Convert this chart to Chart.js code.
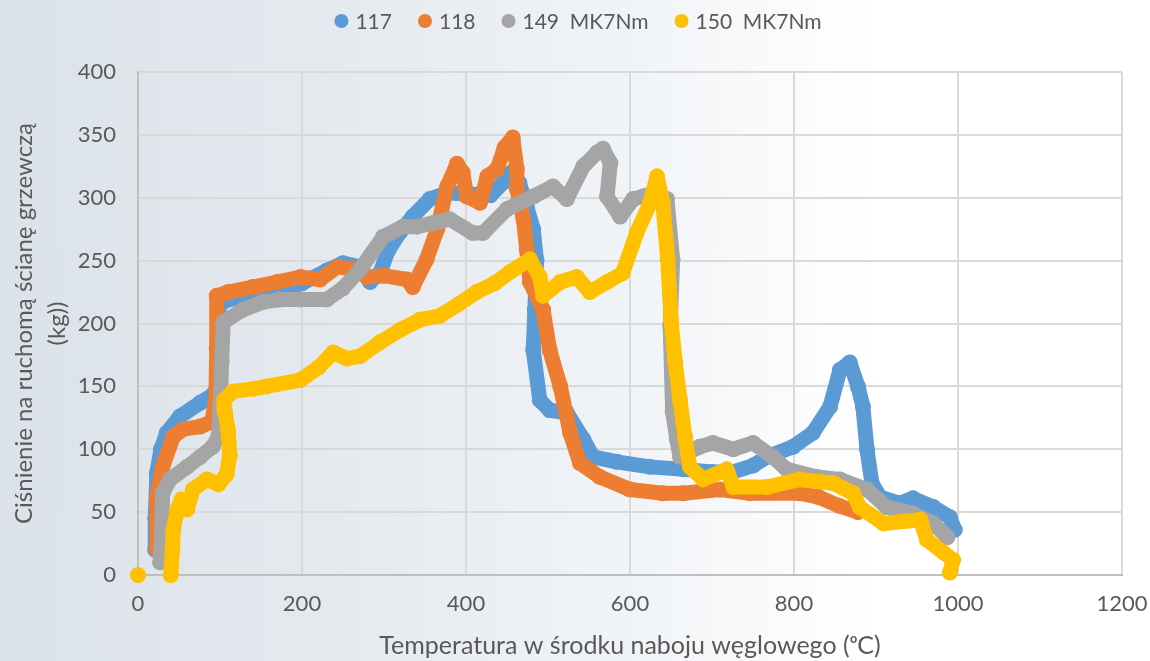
<!DOCTYPE html>
<html>
<head>
<meta charset="utf-8">
<script src="https://cdn.jsdelivr.net/npm/chart.js@4"></script>
<style>
html, body { margin: 0; padding: 0; }
body {
  width: 1150px; height: 661px; overflow: hidden;
  background: linear-gradient(90deg, #dbe2e9 0%, #e5eaef 30%, #f1f4f7 55%, #ffffff 76%);
}
#wrap { position: relative; width: 1150px; height: 661px; }
</style>
</head>
<body>
<div id="wrap"><canvas id="chart"></canvas></div>
<script>
// series labels + colours (Excel default palette)
var seriesNames = ['117', '118', '149  MK7Nm', '150  MK7Nm'];
var seriesColors = ['#5B9BD5', '#ED7D31', '#A5A5A5', '#FFC000'];

// temperature (x) / pressure (y)
var temp117 = [21, 21, 23, 28, 35, 51, 76, 91, 97, 98, 99, 110, 140, 180, 200, 230, 250, 270, 283, 295, 305, 320, 335, 356, 377, 400, 430, 445, 455, 465, 474, 482, 486, 484, 482, 490, 502, 523, 543, 555, 584, 624, 665, 700, 726, 750, 767, 799, 823, 844, 856, 868, 878, 884, 889, 895, 905, 929, 945, 970, 990, 996];
var press117 = [20, 45, 81, 100, 113, 126, 137, 143, 150, 185, 215, 219, 222, 228, 232, 242, 248, 245, 233, 240, 258, 273, 285, 299, 304, 303, 302, 312, 320, 312, 293, 275, 250, 211, 179, 139, 131, 129, 108, 94, 90, 86, 84, 82, 82, 87, 94, 102, 113, 134, 163, 169, 150, 134, 100, 73, 62, 57, 61, 54, 46, 36];

var temp118 = [23, 23, 30, 43, 55, 76, 90, 95, 96, 96, 110, 140, 170, 198, 222, 243, 265, 279, 300, 328, 335, 352, 365, 377, 389, 396, 401, 417, 426, 438, 447, 457, 462, 462, 470, 474, 478, 494, 502, 515, 527, 539, 563, 600, 640, 665, 710, 746, 807, 830, 855, 878];
var press118 = [20, 62, 86, 110, 116, 118, 122, 140, 180, 222, 225, 229, 233, 237, 235, 245, 243, 237, 238, 235, 229, 251, 275, 309, 327, 320, 301, 296, 317, 323, 340, 348, 323, 307, 283, 259, 233, 211, 179, 150, 113, 89, 78, 68, 65, 65, 68, 65, 65, 62, 55, 50];

var temp149 = [27, 29, 30, 39, 60, 76, 91, 98, 100, 102, 104, 128, 152, 173, 198, 230, 250, 271, 299, 323, 340, 360, 380, 408, 421, 450, 482, 506, 523, 543, 560, 567, 576, 572, 588, 604, 616, 628, 645, 652, 649, 652, 657, 661, 685, 701, 726, 750, 774, 791, 828, 856, 889, 913, 945, 970, 987];
var press149 = [10, 35, 65, 76, 86, 94, 102, 110, 129, 170, 201, 211, 217, 219, 219, 219, 228, 243, 269, 277, 277, 280, 283, 272, 272, 291, 301, 309, 299, 325, 336, 339, 328, 301, 285, 299, 301, 304, 299, 251, 198, 130, 108, 94, 102, 105, 100, 105, 94, 84, 78, 76, 68, 54, 49, 41, 30];

// first yellow point stands alone at 0,0 (null breaks the line)
var temp150 = [0, 20, 40, 42, 43, 48, 53, 60, 67, 84, 98, 108, 112, 110, 106, 105, 116, 140, 157, 198, 220, 238, 255, 271, 295, 320, 344, 368, 390, 413, 435, 454, 478, 490, 494, 515, 535, 551, 572, 591, 608, 624, 633, 640, 646, 650, 655, 661, 667, 673, 689, 718, 726, 767, 807, 848, 872, 880, 909, 954, 962, 982, 994, 990];
var press150 = [0, null, 0, 20, 36, 52, 60, 52, 68, 76, 72, 80, 95, 115, 130, 139, 146, 148, 150, 155, 165, 177, 172, 174, 185, 195, 203, 206, 215, 225, 232, 241, 251, 237, 222, 233, 237, 225, 233, 240, 272, 295, 317, 296, 251, 203, 170, 139, 110, 86, 76, 84, 70, 70, 76, 73, 65, 54, 41, 44, 28, 18, 12, 2];

var xTicks = { min: 0, max: 1200, step: 200 };
var yTicks = { min: 0, max: 400, step: 50 };

function toPoints(xs, ys) {
    return xs.map((x, i) => ({ x: x, y: ys[i] }));
}

var allSeries = [[temp117, press117], [temp118, press118], [temp149, press149], [temp150, press150]];

var datasets = allSeries.map((s, i) => ({
    label: seriesNames[i],
    data: toPoints(s[0], s[1]),
    showLine: true,
    spanGaps: false,
    clip: 12,
    borderColor: seriesColors[i],
    backgroundColor: seriesColors[i],
    pointBackgroundColor: seriesColors[i],
    borderWidth: 15,
    borderJoinStyle: 'round',
    borderCapStyle: 'round',
    pointRadius: 8,
    pointBorderWidth: 0,
    pointHoverRadius: 8,
    order: 4 - i   // later series drawn on top, like Excel
}));

var TEXT_COLOR = '#595959';
var FONT = 'Lato, "Open Sans", sans-serif';

// simple top legend drawn on the canvas (round markers, tight spacing)
var topLegend = {
    id: 'topLegend',
    afterDraw(chart) {
        var ctx = chart.ctx;
        ctx.save();
        ctx.font = '21px ' + FONT;
        ctx.textBaseline = 'middle';
        var r = 7, toText = 14, gap = 33, y = 21;
        var widths = seriesNames.map(t => ctx.measureText(t).width);
        var total = r + widths.reduce((a, w) => a + toText + w, 0) + gap * (seriesNames.length - 1);
        var x = 578 - total / 2 + r;
        seriesNames.forEach((t, i) => {
            ctx.fillStyle = seriesColors[i];
            ctx.beginPath();
            ctx.arc(x, y, r, 0, Math.PI * 2);
            ctx.fill();
            ctx.fillStyle = TEXT_COLOR;
            ctx.fillText(t, x + toText, y + 1);
            x += toText + widths[i] + gap;
        });
        ctx.restore();
    }
};

var CHART = new Chart(document.getElementById('chart'), {
    type: 'scatter',
    data: { datasets: datasets },
    options: {
        responsive: true,
        maintainAspectRatio: false,
        animation: false,
        layout: { padding: { top: 72, left: 0, right: 28, bottom: 0 } },
        plugins: {
            legend: { display: false },
            tooltip: { enabled: false }
        },
        scales: {
            x: {
                type: 'linear',
                min: xTicks.min, max: xTicks.max,
                ticks: { stepSize: xTicks.step, color: TEXT_COLOR, font: { family: FONT, size: 22 }, padding: 16,
                         callback: v => String(v) },
                grid: { color: '#d9d9d9', lineWidth: 2, drawTicks: false },
                border: { color: '#bfbfbf', width: 2 },
                title: {
                    display: true,
                    text: 'Temperatura w środku naboju węglowego (ᵒC)',
                    color: TEXT_COLOR,
                    font: { family: FONT, size: 25 },
                    padding: { top: 2, bottom: 0 }
                },
                afterFit(scale) {
                    scale.height = 86;
                    scale.paddingLeft = 0;
                    scale.paddingRight = 0;
                }
            },
            y: {
                type: 'linear',
                min: yTicks.min, max: yTicks.max,
                ticks: { stepSize: yTicks.step, color: TEXT_COLOR, font: { family: FONT, size: 22 }, padding: 22,
                         callback: v => String(v) },
                grid: { color: '#d9d9d9', lineWidth: 2, drawTicks: false },
                border: { color: '#bfbfbf', width: 2 },
                title: {
                    display: true,
                    text: ['Ciśnienie na ruchomą ścianę grzewczą', '(kg))'],
                    color: TEXT_COLOR,
                    font: { family: FONT, size: 24, lineHeight: 1.38 },
                    padding: { top: 8, bottom: 0 }
                },
                afterFit(scale) {
                    scale.width = 138;
                    scale.paddingTop = 0;
                    scale.paddingBottom = 0;
                }
            }
        }
    },
    plugins: [topLegend]
});
</script>
</body>
</html>
